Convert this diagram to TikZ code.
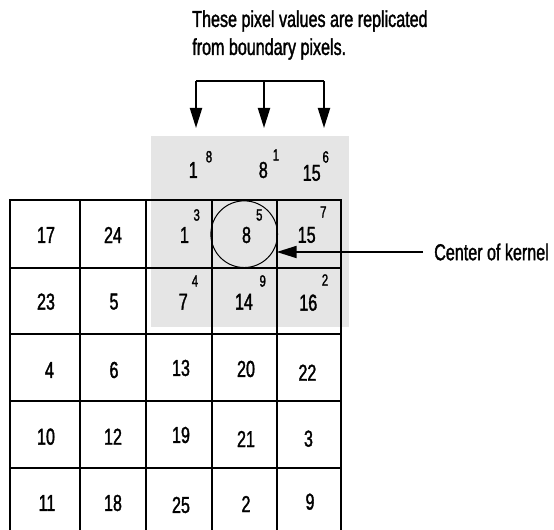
\documentclass[tikz,border=0pt]{standalone}
\usepackage{fontspec}
\setmainfont{Liberation Sans}[FakeStretch=0.7,FakeBold=1.5]
\usetikzlibrary{arrows.meta}

\begin{document}
\begin{tikzpicture}[x=0.75pt,y=-0.75pt]
\tikzset{
  cellnum/.style={inner sep=0pt,font=\fontsize{17.25}{21}\selectfont},
  kernnum/.style={inner sep=0pt,font=\fontsize{12.2}{14}\selectfont},
  gridline/.style={line width=1.5pt,line cap=rect},
  pointer/.style={-{Triangle[length=15pt,width=9pt]},line width=1.5pt},
  shade/.style={fill=black!10,draw=none}
}
\useasboundingbox (0,0) rectangle (554,530);
\fill[shade] (151,136) rectangle (349,327);
\foreach \x in {10,80,145.5,211.7,276.7,341} \draw[gridline] (\x,200) -- (\x,536);
\foreach \y in {200,268.3,334,401,468.5,536} \draw[gridline] (10,\y) -- (341,\y);
% note and replication arrows
\node[cellnum,align=left,anchor=north west] (n_note) at (192,10) {These pixel values are replicated\\from boundary pixels.};
\coordinate (top_a) at (196,81);
\coordinate (top_b) at (264,81);
\coordinate (top_c) at (324,81);
\coordinate (tip_a) at (196,128);
\coordinate (tip_b) at (264,128);
\coordinate (tip_c) at (324,128);
\draw[line width=1.5pt] (top_a) -- (top_c);
\foreach \i in {a,b,c} \draw[pointer] (top_\i) -- (tip_\i);
% replicated row
\node[cellnum] (t_1) at (193.3,170) {1};
\node[cellnum] (t_8) at (263.3,170) {8};
\node[cellnum] (t_15) at (311.7,173) {15};
\node[kernnum] (k_8) at (209,156.7) {8};
\node[kernnum] (k_1) at (276,155) {1};
\node[kernnum] (k_6) at (325.7,157) {6};
% image pixels
\node[cellnum] (n_17) at (46,235) {17};
\node[cellnum] (n_24) at (113,235) {24};
\node[cellnum] (n_1) at (184.5,235) {1};
\node[cellnum] (n_8) at (246.5,235) {8};
\node[cellnum] (n_15) at (306.7,235) {15};
\node[cellnum] (n_23) at (46,301.7) {23};
\node[cellnum] (n_5) at (114,301.7) {5};
\node[cellnum] (n_7) at (183.3,301.7) {7};
\node[cellnum] (n_14) at (244,301.7) {14};
\node[cellnum] (n_16) at (308.3,302.7) {16};
\node[cellnum] (n_4) at (49.5,370) {4};
\node[cellnum] (n_6) at (114,370) {6};
\node[cellnum] (n_13) at (181,368) {13};
\node[cellnum] (n_20) at (246,369) {20};
\node[cellnum] (n_22) at (307.4,372.7) {22};
\node[cellnum] (n_10) at (46,436.7) {10};
\node[cellnum] (n_12) at (113,436.7) {12};
\node[cellnum] (n_19) at (181,435) {19};
\node[cellnum] (n_21) at (246,439) {21};
\node[cellnum] (n_3) at (308.5,438.7) {3};
\node[cellnum] (n_11) at (47,503) {11};
\node[cellnum] (n_18) at (113,503) {18};
\node[cellnum] (n_25) at (181,505) {25};
\node[cellnum] (n_2) at (246,504) {2};
\node[cellnum] (n_9) at (310,501.7) {9};
% kernel positions
\node[kernnum] (k_3) at (196.7,215) {3};
\node[kernnum] (k_5) at (259.3,215) {5};
\node[kernnum] (k_7) at (323.3,212) {7};
\node[kernnum] (k_4) at (195,281) {4};
\node[kernnum] (k_9) at (262.7,281) {9};
\node[kernnum] (k_2) at (325,280) {2};
\node[draw,circle,line width=0.75pt,minimum size=50pt,inner sep=0pt] (n_centre) at (244.2,234.2) {};
\node[cellnum,anchor=west] (n_label) at (434,252) {Center of kernel};
\coordinate (tip_k) at (276.7,252);
\draw[pointer,shorten <=8.25pt] (n_label.west) -- (tip_k);
\end{tikzpicture}
\end{document}
